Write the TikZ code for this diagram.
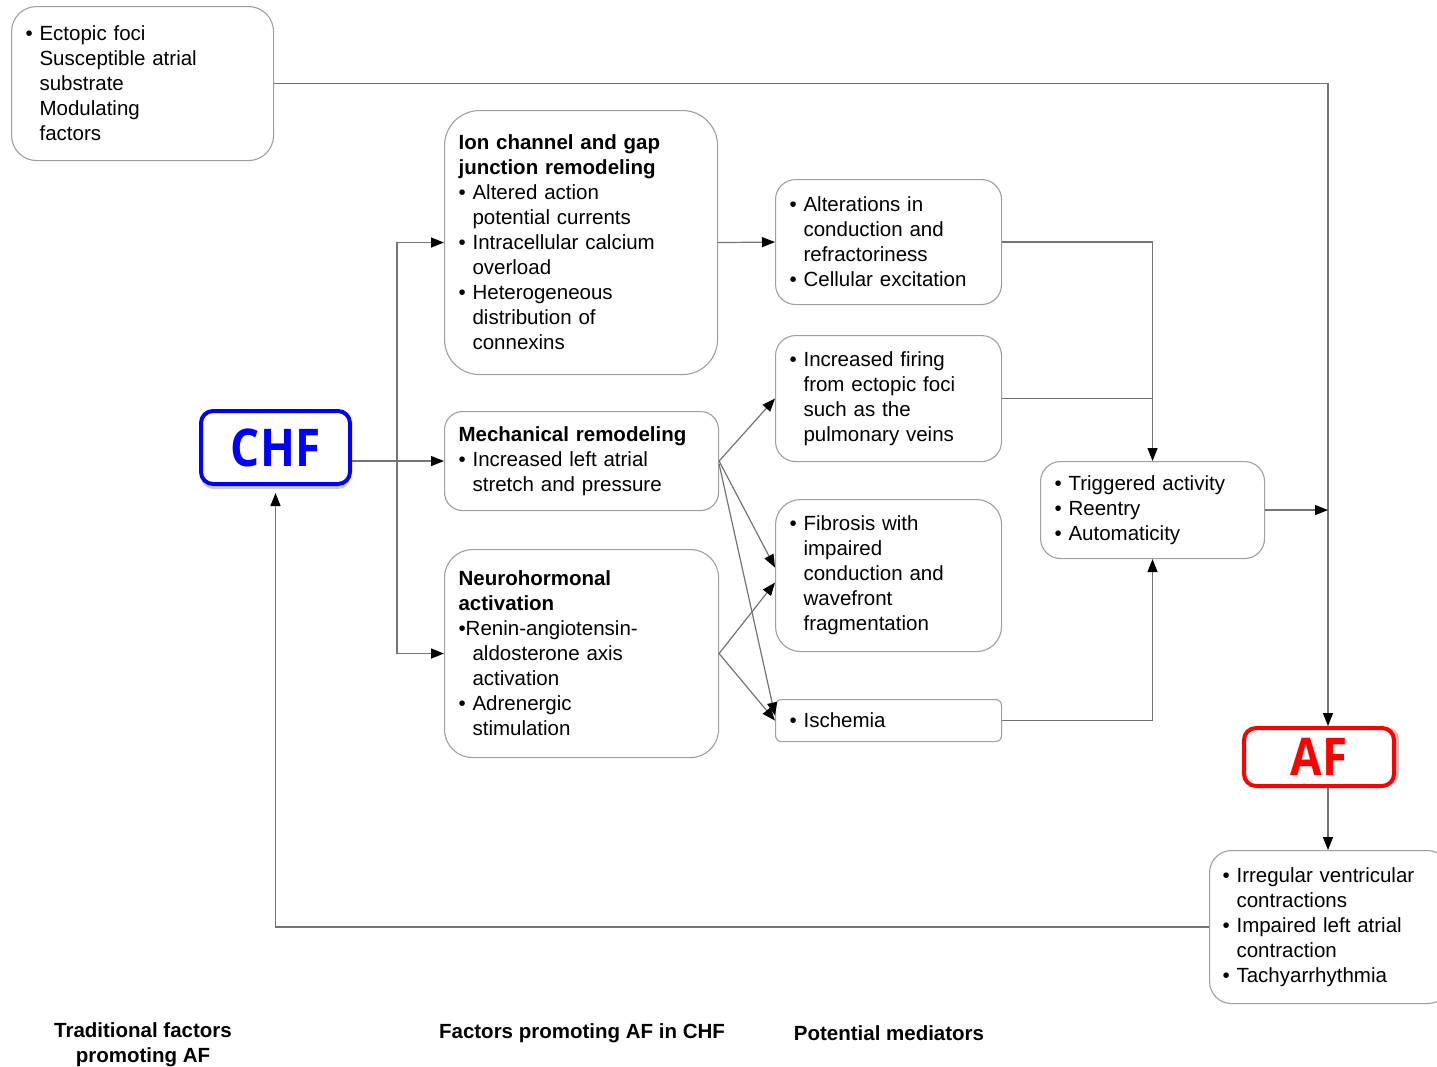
\documentclass[tikz,border=0pt]{standalone}
\usepackage{fontspec}
\setmainfont{Liberation Sans}
\newfontfamily\hlfont[FakeStretch=0.88]{Open Sans}
\usetikzlibrary{arrows.meta,shadows}

\newcommand{\bl}{\textbullet\ }
\newcommand{\ind}{\hphantom{\textbullet\ }}

\begin{document}
\begin{tikzpicture}[
    x=1pt, y=-1pt,
    font=\fontsize{20.5}{25}\selectfont,
    box/.style={draw=gray!75, line width=1.1pt, anchor=north west, align=left, inner xsep=14pt, inner ysep=0pt, fill=white},
    keybox/.style={line width=4pt, rounded corners=12pt, fill=white, inner sep=0pt, font=\hlfont\bfseries\fontsize{52}{52}\selectfont},
    caption/.style={font=\bfseries\fontsize{20.5}{25}\selectfont, align=center},
    line/.style={draw=gray!90!black, line width=1.2pt},
    arrow/.style={line, -{Triangle[length=13pt,width=10pt,color=black]}}
]
\useasboundingbox (0,0) rectangle (1437,1066);

% traditional factors
\node (trad) [box, rounded corners=25pt, minimum width=262pt, minimum height=154pt, text width=234pt] at (11,6)
  {\bl Ectopic foci\\ \ind Susceptible atrial\\ \ind substrate\\ \ind Modulating\\ \ind factors};

% factors promoting AF in CHF
\node (ion) [box, rounded corners=35pt, minimum width=273pt, minimum height=264pt, text width=245pt] at (444,110)
  {\textbf{Ion channel and gap}\\ \textbf{junction remodeling}\\ \bl Altered action\\ \ind potential currents\\
   \bl Intracellular calcium\\ \ind overload\\ \bl Heterogeneous\\ \ind distribution of\\ \ind connexins};
\node (mech) [box, rounded corners=18pt, minimum width=274pt, minimum height=99pt, text width=246pt] at (444,411)
  {\textbf{Mechanical remodeling}\\ \bl Increased left atrial\\ \ind stretch and pressure};
\node (neuro) [box, rounded corners=28pt, minimum width=274pt, minimum height=208pt, text width=246pt] at (444,549)
  {\textbf{Neurohormonal}\\ \textbf{activation}\\ \textbullet Renin-angiotensin-\\ \ind aldosterone axis\\ \ind activation\\
   \bl Adrenergic\\ \ind stimulation};

% potential mediators
\node (alt) [box, rounded corners=20pt, minimum width=226pt, minimum height=125pt, text width=198pt] at (775,179)
  {\bl Alterations in\\ \ind conduction and\\ \ind refractoriness\\ \bl Cellular excitation};
\node (fire) [box, rounded corners=20pt, minimum width=226pt, minimum height=126pt, text width=198pt] at (775,335)
  {\bl Increased firing\\ \ind from ectopic foci\\ \ind such as the\\ \ind pulmonary veins};
\node (fib) [box, rounded corners=25pt, minimum width=226pt, minimum height=152pt, text width=198pt] at (775,499)
  {\bl Fibrosis with\\ \ind impaired\\ \ind conduction and\\ \ind wavefront\\ \ind fragmentation};
\node (isch) [box, rounded corners=6pt, minimum width=226pt, minimum height=42pt, text width=198pt] at (775,699)
  {\bl Ischemia};

% mechanisms and consequences
\node (trig) [box, rounded corners=20pt, minimum width=224pt, minimum height=97pt, text width=196pt] at (1040,461)
  {\bl Triggered activity\\ \bl Reentry\\ \bl Automaticity};
\node (irreg) [box, rounded corners=22pt, minimum width=240pt, minimum height=153pt, text width=214pt, inner xsep=13pt] at (1209,850)
  {\bl Irregular ventricular\\ \ind contractions\\ \bl Impaired left atrial\\ \ind contraction\\ \bl Tachyarrhythmia};

% CHF and AF
\node (CHF) [keybox, draw=blue, text=blue, minimum width=149pt, minimum height=73pt,
  drop shadow={shadow xshift=0pt, shadow yshift=-5pt, fill=gray!40, opacity=1}] at (275.5,447.5) {CHF};
\node (AF) [keybox, draw=red, text=red, minimum width=150pt, minimum height=58pt,
  drop shadow={shadow xshift=5pt, shadow yshift=1pt, fill=gray!45, opacity=1}] at (1319,757) {AF};

% column captions
\node (capTrad) [caption] at (143,1045) {Traditional factors\\ promoting AF};
\node (capChf) [caption] at (582,1033) {Factors promoting AF in CHF};
\node (capMed) [caption] at (889,1033) {Potential mediators};

\coordinate (split) at (397,0);
\coordinate (afx) at (1328,0);

\draw [arrow] (trad.east) -| (afx |- AF.north);
\draw [arrow] (CHF.east |- mech.west) -- (mech.west);
\draw [arrow] (split |- mech.west) |- (ion.west);
\draw [arrow] (split |- mech.west) |- (neuro.west);
\draw [arrow] (ion.east) -- (alt.west);

\draw [arrow] (mech.east) -- (fire.west);
\draw [arrow] (mech.east) -- ([yshift=8pt]fib.west);
\draw [arrow] ([yshift=-3pt]mech.east) -- ([yshift=5pt]isch.west);
\draw [arrow] (neuro.east) -- ([yshift=-7pt]fib.west);
\draw [arrow] (neuro.east) -- (isch.west);

\draw [arrow] (alt.east) -| (trig.north);
\draw [line] (fire.east) -- (fire.east -| trig.north);
\draw [arrow] (isch.east) -| (trig.south);
\draw [arrow] (trig.east) -- (trig.east -| afx);

\draw [arrow] (afx |- AF.south) -- (afx |- irreg.north);
\draw [arrow, shorten >=7pt] (irreg.west) -| (CHF.south);

\end{tikzpicture}
\end{document}
